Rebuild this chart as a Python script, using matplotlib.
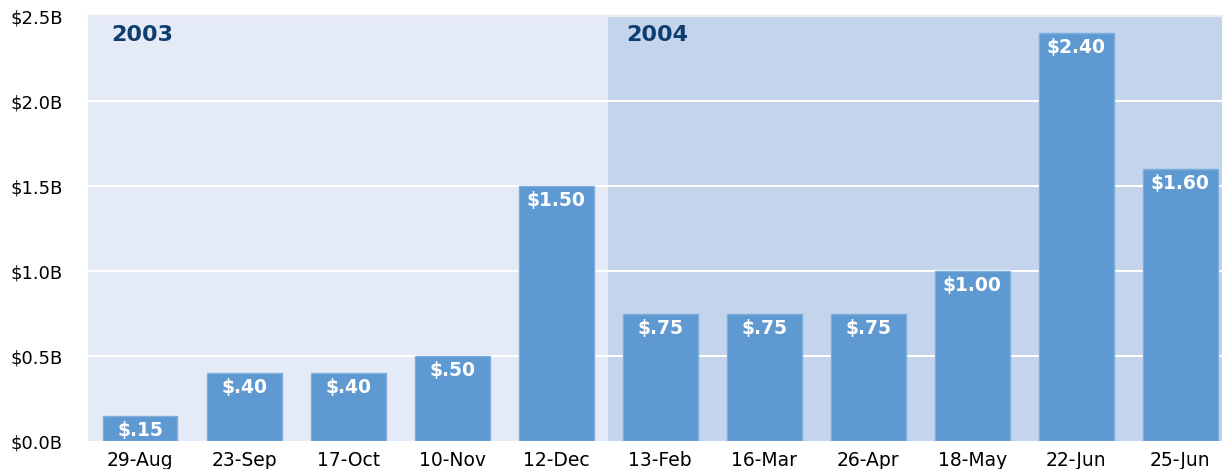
import matplotlib.pyplot as plt

dates = ['29-Aug', '23-Sep', '17-Oct', '10-Nov', '12-Dec',
         '13-Feb', '16-Mar', '26-Apr', '18-May', '22-Jun', '25-Jun']
values = [0.15, 0.40, 0.40, 0.50, 1.50, 0.75, 0.75, 0.75, 1.00, 2.40, 1.60]
labels = ['$.15', '$.40', '$.40', '$.50', '$1.50',
          '$.75', '$.75', '$.75', '$1.00', '$2.40', '$1.60']
yticks = [0.0, 0.5, 1.0, 1.5, 2.0, 2.5]
ytick_labels = ['$0.0B', '$0.5B', '$1.0B', '$1.5B', '$2.0B', '$2.5B']
years = ['2003', '2004']

plt.rcParams['font.family'] = ['DejaVu Sans']

fig = plt.figure(figsize=(12.26, 4.69), dpi=100)
ax = fig.add_axes([88 / 1226, 28 / 469, 1134 / 1226, 425 / 469])

x = list(range(len(dates)))
n_2003 = 5

# year background bands
ax.axvspan(-0.5, n_2003 - 0.5, color='#E4EAF6', zorder=0, lw=0)
ax.axvspan(n_2003 - 0.5, 10.4, color='#C3D4EC', zorder=0, lw=0)

for t in yticks[1:]:
    ax.axhline(t, color='white', lw=1.5, zorder=1)

bars = ax.bar(x, values, width=0.72, color='#5E99D1', edgecolor='#7FAEDD',
              linewidth=1, zorder=2)

for xi, v, lab in zip(x, values, labels):
    ax.text(xi, v - 0.03, lab, ha='center', va='top', color='white',
            fontsize=13.5, fontweight='bold', zorder=3)

ax.text(-0.28, 2.445, years[0], ha='left', va='top', color='#0E3D6E',
        fontsize=16, fontweight='bold')
ax.text(n_2003 - 0.33, 2.445, years[1], ha='left', va='top', color='#0E3D6E',
        fontsize=16, fontweight='bold')

ax.set_xlim(-0.5, 10.4)
ax.set_ylim(0, 2.5)
ax.set_yticks(yticks)
ax.set_yticklabels(ytick_labels, fontsize=13)
ax.set_xticks(x)
ax.set_xticklabels(dates, fontsize=13.5)
ax.tick_params(axis='both', length=0)
ax.tick_params(axis='y', pad=18)
ax.tick_params(axis='x', pad=7)
for side in ['left', 'right', 'bottom']:
    ax.spines[side].set_visible(False)
ax.spines['top'].set_color('#E8ECF2')
ax.spines['top'].set_linewidth(1.5)

fig.savefig('out.png', dpi=100)
